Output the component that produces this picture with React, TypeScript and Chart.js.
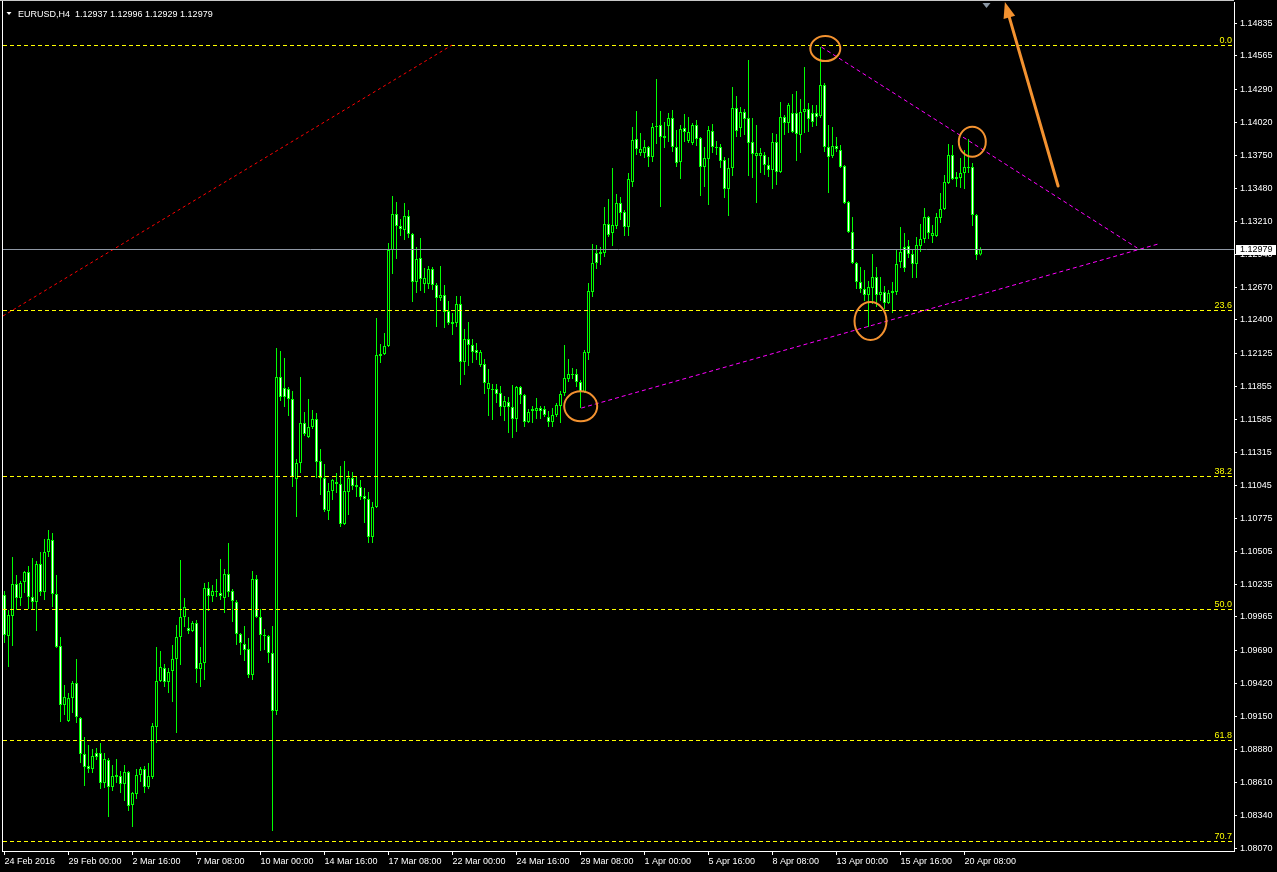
import React, { useEffect, useRef } from "react";
import { Chart, registerables } from "chart.js";

Chart.register(...registerables);

const SYMBOL = "EURUSD,H4";

const OPEN = [
  1.10145, 1.09809, 1.09973, 1.10235, 1.10120, 1.10252, 1.10334, 1.10129, 1.10088, 1.10399,
  1.10170, 1.10498, 1.10596, 1.10153, 1.09727, 1.09243, 1.09112, 1.09300, 1.09423, 1.09136,
  1.08841, 1.08743, 1.08718, 1.08849, 1.08849, 1.08603, 1.08792, 1.08571, 1.08653, 1.08661,
  1.08595, 1.08694, 1.08423, 1.08513, 1.08669, 1.08718, 1.08571, 1.08653, 1.09063, 1.09440,
  1.09546, 1.09432, 1.09522, 1.09620, 1.09801, 1.09965, 1.09874, 1.09850, 1.09915, 1.09538,
  1.09587, 1.10202, 1.10137, 1.10170, 1.10161, 1.10120, 1.10317, 1.10178, 1.10088, 1.09825,
  1.09743, 1.09702, 1.09489, 1.10276, 1.09965, 1.09817, 1.09809, 1.09669, 1.09194, 1.11933,
  1.11842, 1.11834, 1.11752, 1.11096, 1.11227, 1.11555, 1.11441, 1.11523, 1.11588, 1.11244,
  1.11104, 1.10834, 1.10998, 1.11072, 1.11055, 1.10727, 1.10990, 1.11104, 1.11047, 1.11031,
  1.10957, 1.10932, 1.10621, 1.10867, 1.12105, 1.12121, 1.12187, 1.12974, 1.13269, 1.13171,
  1.13138, 1.13253, 1.13105, 1.12712, 1.12908, 1.12695, 1.12695, 1.12818, 1.12687, 1.12580,
  1.12605, 1.12474, 1.12384, 1.12375, 1.12531, 1.12056, 1.12244, 1.12195, 1.12154, 1.12031,
  1.12039, 1.11834, 1.11834, 1.11834, 1.11801, 1.11687, 1.11728, 1.11687, 1.11588, 1.11851,
  1.11785, 1.11564, 1.11654, 1.11654, 1.11678, 1.11670, 1.11605, 1.11564, 1.11621, 1.11695,
  1.11801, 1.11916, 1.11957, 1.11957, 1.11892, 1.11810, 1.12129, 1.12630, 1.12949, 1.12941,
  1.12949, 1.13187, 1.13113, 1.13171, 1.13359, 1.13286, 1.13163, 1.13532, 1.13884, 1.13769,
  1.13769, 1.13819, 1.13737, 1.13983, 1.13999, 1.13909, 1.13991, 1.14056, 1.13819, 1.13696,
  1.13974, 1.13868, 1.13851, 1.13999, 1.13892, 1.13655, 1.13720, 1.13950, 1.13819, 1.13819,
  1.13712, 1.13474, 1.13646, 1.14138, 1.13974, 1.14106, 1.14056, 1.13860, 1.13745, 1.13745,
  1.13753, 1.13671, 1.13630, 1.13860, 1.13614, 1.14065, 1.14015, 1.14097, 1.14097, 1.13917,
  1.14106, 1.14130, 1.14097, 1.14097, 1.14073, 1.14327, 1.13819, 1.13745, 1.13827, 1.13794,
  1.13663, 1.13368, 1.13122, 1.12867, 1.12712, 1.12654, 1.12605, 1.12662, 1.12753, 1.12605,
  1.12630, 1.12539, 1.12621, 1.12630, 1.12876, 1.12999, 1.13007, 1.12941, 1.12859, 1.13007,
  1.13064, 1.13245, 1.13089, 1.13089, 1.13236, 1.13310, 1.13523, 1.13753, 1.13556, 1.13564,
  1.13605, 1.13646, 1.13655, 1.13261, 1.12937,
];

const HIGH = [
  1.10178, 1.10022, 1.10457, 1.10309, 1.10260, 1.10342, 1.10383, 1.10448, 1.10424, 1.10498,
  1.10604, 1.10678, 1.10653, 1.10309, 1.09801, 1.09407, 1.09341, 1.09440, 1.09620, 1.09145,
  1.08981, 1.08915, 1.08882, 1.08890, 1.08931, 1.08849, 1.08808, 1.08751, 1.08800, 1.08702,
  1.08751, 1.08702, 1.08530, 1.08718, 1.08735, 1.08743, 1.08767, 1.09095, 1.09719, 1.09686,
  1.09579, 1.09546, 1.09735, 1.09899, 1.10432, 1.10120, 1.09965, 1.09932, 1.09940, 1.09719,
  1.10243, 1.10252, 1.10227, 1.10276, 1.10440, 1.10358, 1.10571, 1.10194, 1.10104, 1.09833,
  1.09891, 1.09792, 1.10342, 1.10309, 1.10030, 1.09866, 1.09817, 1.09891, 1.12170, 1.12146,
  1.12088, 1.11851, 1.11818, 1.11260, 1.11933, 1.11646, 1.11752, 1.11662, 1.11637, 1.11342,
  1.11219, 1.11063, 1.11096, 1.11145, 1.11203, 1.11244, 1.11162, 1.11154, 1.11113, 1.11088,
  1.11022, 1.10990, 1.10908, 1.12416, 1.12203, 1.12293, 1.13031, 1.13417, 1.13368, 1.13228,
  1.13359, 1.13302, 1.13113, 1.12999, 1.13072, 1.12826, 1.12843, 1.12835, 1.12703, 1.12843,
  1.12687, 1.12556, 1.12457, 1.12597, 1.12597, 1.12326, 1.12384, 1.12244, 1.12211, 1.12154,
  1.12080, 1.11998, 1.11875, 1.11875, 1.11859, 1.11777, 1.11769, 1.11867, 1.11859, 1.11859,
  1.11793, 1.11670, 1.11695, 1.11760, 1.11695, 1.11695, 1.11654, 1.11678, 1.11719, 1.11818,
  1.12195, 1.12080, 1.12006, 1.11998, 1.11908, 1.12154, 1.12703, 1.13023, 1.13015, 1.12999,
  1.13327, 1.13392, 1.13646, 1.13433, 1.13409, 1.13302, 1.13605, 1.13983, 1.14114, 1.13933,
  1.13876, 1.13827, 1.14015, 1.14376, 1.14114, 1.14024, 1.14097, 1.14122, 1.13958, 1.13999,
  1.14089, 1.14065, 1.14015, 1.14040, 1.13901, 1.13819, 1.13991, 1.14007, 1.13868, 1.13843,
  1.13737, 1.13728, 1.14311, 1.14237, 1.14147, 1.14130, 1.14532, 1.14056, 1.13999, 1.13810,
  1.13778, 1.13737, 1.13933, 1.13925, 1.14188, 1.14081, 1.14179, 1.14253, 1.14278, 1.14212,
  1.14475, 1.14179, 1.14163, 1.14163, 1.14639, 1.14343, 1.13999, 1.13983, 1.13901, 1.13835,
  1.13671, 1.13376, 1.13245, 1.12876, 1.12835, 1.12810, 1.12720, 1.12941, 1.12835, 1.12753,
  1.12679, 1.12646, 1.12712, 1.12982, 1.13163, 1.13113, 1.13056, 1.12974, 1.13081, 1.13187,
  1.13318, 1.13253, 1.13179, 1.13277, 1.13441, 1.13589, 1.13843, 1.13835, 1.13614, 1.13728,
  1.13794, 1.13884, 1.13687, 1.13269, 1.12996,
];

const LOW = [
  1.09751, 1.09555, 1.09727, 1.10022, 1.10055, 1.10161, 1.10030, 1.10022, 1.09850, 1.10137,
  1.10104, 1.10457, 1.10047, 1.09710, 1.09104, 1.09161, 1.09104, 1.09177, 1.09095, 1.08767,
  1.08579, 1.08685, 1.08685, 1.08792, 1.08554, 1.08562, 1.08325, 1.08538, 1.08603, 1.08521,
  1.08456, 1.08374, 1.08243, 1.08472, 1.08612, 1.08521, 1.08554, 1.08636, 1.08931, 1.09432,
  1.09391, 1.09341, 1.09268, 1.09013, 1.09571, 1.09883, 1.09825, 1.09842, 1.09423, 1.09391,
  1.09448, 1.10014, 1.10088, 1.10129, 1.10104, 1.09997, 1.10129, 1.09924, 1.09735, 1.09653,
  1.09604, 1.09464, 1.09448, 1.09956, 1.09686, 1.09694, 1.09587, 1.08210, 1.09161, 1.11736,
  1.11687, 1.11613, 1.11031, 1.10785, 1.11145, 1.11449, 1.11432, 1.11506, 1.11104, 1.10965,
  1.10826, 1.10760, 1.10924, 1.10981, 1.10703, 1.10719, 1.10801, 1.11006, 1.10949, 1.10924,
  1.10735, 1.10571, 1.10571, 1.10858, 1.12047, 1.12113, 1.12179, 1.12777, 1.12900, 1.13089,
  1.13056, 1.13072, 1.12548, 1.12621, 1.12638, 1.12621, 1.12654, 1.12646, 1.12343, 1.12556,
  1.12334, 1.12359, 1.12277, 1.12343, 1.11867, 1.11949, 1.12023, 1.12047, 1.12072, 1.12015,
  1.11793, 1.11613, 1.11580, 1.11719, 1.11613, 1.11572, 1.11473, 1.11432, 1.11482, 1.11711,
  1.11523, 1.11555, 1.11555, 1.11588, 1.11588, 1.11605, 1.11523, 1.11523, 1.11605, 1.11555,
  1.11777, 1.11892, 1.11916, 1.11851, 1.11678, 1.11801, 1.12072, 1.12589, 1.12818, 1.12851,
  1.12917, 1.13081, 1.13007, 1.13146, 1.13220, 1.13089, 1.13089, 1.13491, 1.13753, 1.13745,
  1.13728, 1.13655, 1.13696, 1.13843, 1.13327, 1.13810, 1.13860, 1.13778, 1.13655, 1.13556,
  1.13860, 1.13851, 1.13835, 1.13827, 1.13417, 1.13491, 1.13343, 1.13769, 1.13753, 1.13646,
  1.13400, 1.13253, 1.13581, 1.13901, 1.13901, 1.13917, 1.13581, 1.13564, 1.13359, 1.13605,
  1.13589, 1.13573, 1.13474, 1.13507, 1.13605, 1.13917, 1.13933, 1.13933, 1.13704, 1.13769,
  1.13933, 1.13942, 1.13983, 1.13991, 1.14056, 1.13778, 1.13441, 1.13728, 1.13778, 1.13646,
  1.13351, 1.13113, 1.12859, 1.12654, 1.12621, 1.12556, 1.12343, 1.12531, 1.12507, 1.12556,
  1.12490, 1.12531, 1.12457, 1.12605, 1.12826, 1.12794, 1.12908, 1.12744, 1.12744, 1.12958,
  1.13031, 1.13064, 1.13031, 1.13081, 1.13195, 1.13302, 1.13515, 1.13548, 1.13491, 1.13482,
  1.13474, 1.13605, 1.13171, 1.12892, 1.12929,
];

const CLOSE = [
  1.09817, 1.09981, 1.10235, 1.10120, 1.10243, 1.10334, 1.10129, 1.10088, 1.10399, 1.10170,
  1.10498, 1.10604, 1.10153, 1.09719, 1.09243, 1.09309, 1.09300, 1.09423, 1.09145, 1.08841,
  1.08735, 1.08718, 1.08825, 1.08817, 1.08603, 1.08800, 1.08571, 1.08661, 1.08669, 1.08595,
  1.08694, 1.08415, 1.08521, 1.08669, 1.08718, 1.08571, 1.08661, 1.09071, 1.09440, 1.09555,
  1.09432, 1.09514, 1.09620, 1.09801, 1.09965, 1.10047, 1.09850, 1.09915, 1.09538, 1.09587,
  1.10202, 1.10137, 1.10178, 1.10178, 1.10137, 1.10317, 1.10170, 1.10096, 1.09825, 1.09751,
  1.09694, 1.09489, 1.10276, 1.09965, 1.09817, 1.09809, 1.09669, 1.09194, 1.11933, 1.11769,
  1.11769, 1.11752, 1.11113, 1.11227, 1.11555, 1.11465, 1.11523, 1.11588, 1.11236, 1.11104,
  1.10842, 1.10998, 1.11088, 1.11055, 1.10727, 1.10998, 1.11104, 1.11039, 1.11031, 1.10949,
  1.10932, 1.10621, 1.10867, 1.12113, 1.12121, 1.12187, 1.12974, 1.13269, 1.13171, 1.13146,
  1.13253, 1.13105, 1.12712, 1.12900, 1.12736, 1.12744, 1.12818, 1.12687, 1.12580, 1.12605,
  1.12466, 1.12375, 1.12367, 1.12531, 1.12056, 1.12244, 1.12195, 1.12138, 1.12129, 1.12138,
  1.11883, 1.11883, 1.11826, 1.11793, 1.11687, 1.11736, 1.11687, 1.11588, 1.11851, 1.11785,
  1.11564, 1.11646, 1.11670, 1.11678, 1.11654, 1.11621, 1.11564, 1.11621, 1.11703, 1.11793,
  1.11924, 1.11957, 1.11949, 1.11892, 1.11810, 1.12138, 1.12638, 1.12867, 1.12867, 1.12958,
  1.13187, 1.13097, 1.13179, 1.13359, 1.13277, 1.13163, 1.13556, 1.13876, 1.13802, 1.13802,
  1.13819, 1.13737, 1.13983, 1.13991, 1.13901, 1.13892, 1.14056, 1.13819, 1.13687, 1.13966,
  1.13942, 1.13942, 1.13999, 1.13884, 1.13655, 1.13728, 1.13958, 1.13819, 1.13810, 1.13704,
  1.13474, 1.13646, 1.14138, 1.13950, 1.14106, 1.14048, 1.13851, 1.13761, 1.13769, 1.13769,
  1.13671, 1.13630, 1.13860, 1.13614, 1.14065, 1.14015, 1.14163, 1.13942, 1.13925, 1.14106,
  1.14130, 1.14048, 1.14024, 1.14065, 1.14327, 1.13819, 1.13737, 1.13827, 1.13802, 1.13655,
  1.13359, 1.13122, 1.12867, 1.12712, 1.12654, 1.12605, 1.12671, 1.12753, 1.12605, 1.12630,
  1.12539, 1.12621, 1.12638, 1.12859, 1.12958, 1.12826, 1.12941, 1.12859, 1.13015, 1.13064,
  1.13245, 1.13113, 1.13113, 1.13245, 1.13310, 1.13532, 1.13753, 1.13556, 1.13573, 1.13605,
  1.13655, 1.13655, 1.13261, 1.12933, 1.12979,
];

// time-axis labels (bar index -> text)
const X_TICK_INDEX = [0, 16, 32, 48, 64, 80, 96, 112, 128, 144, 160, 176, 192, 208, 224, 240];
const X_TICK_TEXT = [
  "24 Feb 2016", "29 Feb 00:00", "2 Mar 16:00", "7 Mar 08:00", "10 Mar 00:00", "14 Mar 16:00",
  "17 Mar 08:00", "22 Mar 00:00", "24 Mar 16:00", "29 Mar 08:00", "1 Apr 00:00", "5 Apr 16:00",
  "8 Apr 08:00", "13 Apr 00:00", "15 Apr 16:00", "20 Apr 08:00",
];

// price-axis labels
const Y_TICKS = [
  1.14835, 1.14565, 1.1429, 1.1402, 1.1375, 1.1348, 1.1321, 1.1294, 1.1267, 1.124, 1.12125,
  1.11855, 1.11585, 1.11315, 1.11045, 1.10775, 1.10505, 1.10235, 1.09965, 1.0969, 1.0942,
  1.0915, 1.0888, 1.0861, 1.0834, 1.0807,
];

// Fibonacci retracement levels
const FIB_PRICES = [1.14655, 1.12474, 1.11113, 1.1003, 1.08948, 1.0812];
const FIB_NAMES = ["0.0", "23.6", "38.2", "50.0", "61.8", "70.7"];
// fib anchor diagonal [idx0, price0, idx1, price1]
const FIB_DIAGONAL = [-0.375, 1.12433, 111.9, 1.14655];

// trend lines [idx0, price0, idx1, price1]
const TREND_UPPER = [204.2, 1.14639, 283.2, 1.1299];
const TREND_LOWER = [144.2, 1.11678, 288.4, 1.13023];

// highlighted swing points [idx, price]
const CIRCLES = [
  [205.2, 1.14626],
  [216.5, 1.12392],
  [144.05, 1.11692],
  [241.95, 1.13862],
];
const CIRCLE_RADII = [
  [15, 12.5],
  [16, 19],
  [16.5, 15],
  [13.5, 15],
];

// arrow [idxTail, priceTail, idxTip, priceTip]
const ARROW = [263.4, 1.13499, 250.1, 1.15008];

const SHIFT_MARK_IDX = 245.5;

const X_MIN = -0.375;
const X_MAX = 307.375;
const Y_MIN = 1.080458;
const Y_MAX = 1.150076;

const LIME = "#00ff00";
const ORANGE = "#f39230";
const FONT = "'Liberation Sans', Arial, sans-serif";

const overlayPlugin = {
  id: "mt4overlay",
  afterDatasetsDraw(chart: any) {
    const { ctx, chartArea: a, scales } = chart;
    const xs = scales.x;
    const ys = scales.y;
    const X = (v: number) => xs.getPixelForValue(v);
    const Y = (v: number) => ys.getPixelForValue(v);

    ctx.save();
    ctx.beginPath();
    ctx.rect(a.left, a.top, a.right - a.left, a.bottom - a.top);
    ctx.clip();

    // fib levels
    ctx.lineWidth = 1;
    ctx.strokeStyle = "#ffff00";
    ctx.fillStyle = "#ffff00";
    ctx.font = `9px ${FONT}`;
    ctx.textAlign = "right";
    ctx.textBaseline = "alphabetic";
    FIB_PRICES.forEach((p, k) => {
      const py = Math.floor(Y(p)) + 0.5;
      ctx.setLineDash([4, 3]);
      ctx.beginPath();
      ctx.moveTo(a.left, py);
      ctx.lineTo(a.right - 2, py);
      ctx.stroke();
      ctx.setLineDash([]);
      ctx.fillText(FIB_NAMES[k], a.right - 2, py - 2.5);
    });

    // fib diagonal (red)
    ctx.strokeStyle = "#ff0000";
    ctx.setLineDash([3, 3]);
    ctx.beginPath();
    ctx.moveTo(X(FIB_DIAGONAL[0]), Y(FIB_DIAGONAL[1]));
    ctx.lineTo(X(FIB_DIAGONAL[2]), Y(FIB_DIAGONAL[3]));
    ctx.stroke();

    // trend lines (magenta)
    ctx.strokeStyle = "#ff00ff";
    ctx.setLineDash([4, 3]);
    [TREND_UPPER, TREND_LOWER].forEach((t) => {
      ctx.beginPath();
      ctx.moveTo(X(t[0]), Y(t[1]));
      ctx.lineTo(X(t[2]), Y(t[3]));
      ctx.stroke();
    });
    ctx.setLineDash([]);

    // bid line
    const last = CLOSE[CLOSE.length - 1];
    const by = Math.floor(Y(last)) + 0.5;
    ctx.strokeStyle = "#8f98a5";
    ctx.beginPath();
    ctx.moveTo(a.left, by);
    ctx.lineTo(a.right, by);
    ctx.stroke();

    // circles
    ctx.strokeStyle = ORANGE;
    ctx.lineWidth = 2;
    CIRCLES.forEach((c, k) => {
      ctx.beginPath();
      ctx.ellipse(X(c[0]), Y(c[1]), CIRCLE_RADII[k][0], CIRCLE_RADII[k][1], 0, 0, Math.PI * 2);
      ctx.stroke();
    });
    ctx.restore();

    // arrow (not clipped)
    ctx.save();
    const tx = X(ARROW[0]);
    const ty = Y(ARROW[1]);
    const hx = X(ARROW[2]);
    const hy = Y(ARROW[3]);
    const dx = hx - tx;
    const dy = hy - ty;
    const len = Math.sqrt(dx * dx + dy * dy);
    const ux = dx / len;
    const uy = dy / len;
    const headLen = 16;
    const headHalf = 6;
    const bx = hx - ux * headLen;
    const byy = hy - uy * headLen;
    ctx.strokeStyle = ORANGE;
    ctx.fillStyle = ORANGE;
    ctx.lineWidth = 3;
    ctx.lineCap = "round";
    ctx.beginPath();
    ctx.moveTo(tx, ty);
    ctx.lineTo(bx, byy);
    ctx.stroke();
    ctx.beginPath();
    ctx.moveTo(hx, hy);
    ctx.lineTo(bx - uy * headHalf, byy + ux * headHalf);
    ctx.lineTo(bx + uy * headHalf, byy - ux * headHalf);
    ctx.closePath();
    ctx.fill();
    ctx.restore();
  },
  afterDraw(chart: any) {
    const { ctx, chartArea: a, scales } = chart;
    const ys = scales.y;
    const xs = scales.x;
    ctx.save();
    // frame: left and top
    ctx.fillStyle = "#ffffff";
    ctx.fillRect(a.left - 1, 0, 1, a.bottom + 1);
    ctx.fillStyle = "#c8c8c8";
    ctx.fillRect(0, 0, a.right, 1);

    // shift marker
    const sx = xs.getPixelForValue(SHIFT_MARK_IDX);
    ctx.fillStyle = "#8a96a3";
    ctx.beginPath();
    ctx.moveTo(sx - 4, 3);
    ctx.lineTo(sx + 4, 3);
    ctx.lineTo(sx, 8);
    ctx.closePath();
    ctx.fill();

    // header
    const n = CLOSE.length - 1;
    ctx.fillStyle = "#ffffff";
    ctx.beginPath();
    ctx.moveTo(6.5, 12);
    ctx.lineTo(11.5, 12);
    ctx.lineTo(9, 15);
    ctx.closePath();
    ctx.fill();
    ctx.font = `9px ${FONT}`;
    ctx.textAlign = "left";
    ctx.textBaseline = "alphabetic";
    const header = `${SYMBOL}  ${OPEN[n].toFixed(5)} ${HIGH[n].toFixed(5)} ${LOW[n].toFixed(5)} ${CLOSE[n].toFixed(5)}`;
    ctx.fillText(header, 18, 17);

    // bid price label on axis
    const by = Math.floor(ys.getPixelForValue(CLOSE[n]));
    ctx.fillStyle = "#ffffff";
    ctx.fillRect(a.right + 2, by - 4, 40, 10);
    ctx.fillStyle = "#000000";
    ctx.textBaseline = "middle";
    ctx.fillText(CLOSE[n].toFixed(5), a.right + 6, by + 1);
    ctx.restore();
  },
};

export default function App() {
  const ref = useRef<HTMLCanvasElement>(null);

  useEffect(() => {
    const canvas = ref.current;
    if (!canvas) return;
    const wicks = LOW.map((l, i) => ({ x: i, y: [l, HIGH[i]] }));
    const bodies = OPEN.map((o, i) => ({ x: i, y: [o, CLOSE[i]] }));
    const bodyFill = OPEN.map((o, i) => (CLOSE[i] >= o ? "#000000" : "#ffffff"));

    const chart = new Chart(canvas, {
      type: "bar",
      data: {
        datasets: [
          {
            data: bodies as any,
            backgroundColor: bodyFill,
            borderColor: LIME,
            borderWidth: 1,
            borderSkipped: false,
            barThickness: 3,
            grouped: false,
            minBarLength: 1,
            inflateAmount: 0,
            order: 0,
          } as any,
          {
            data: wicks as any,
            backgroundColor: LIME,
            borderWidth: 0,
            barThickness: 1,
            grouped: false,
            inflateAmount: 0,
            order: 1,
          } as any,
        ],
      },
      options: {
        responsive: false,
        animation: false,
        events: [],
        layout: { padding: { left: 3, top: 2, right: 0, bottom: 0 }, autoPadding: false } as any,
        plugins: {
          legend: { display: false },
          tooltip: { enabled: false },
          title: { display: false },
        },
        scales: {
          x: {
            type: "linear",
            position: "bottom",
            min: X_MIN,
            max: X_MAX,
            offset: false,
            grid: {
              display: true,
              drawOnChartArea: false,
              drawTicks: true,
              tickLength: 4,
              color: "#ffffff",
              offset: false,
            },
            border: { display: true, color: "#ffffff", width: 1 },
            ticks: {
              autoSkip: false,
              maxRotation: 0,
              minRotation: 0,
              align: "start",
              color: "#ffffff",
              padding: 1,
              font: { family: FONT, size: 9 },
              callback: (v: any) => {
                const k = X_TICK_INDEX.indexOf(Number(v));
                return k >= 0 ? X_TICK_TEXT[k] : "";
              },
            },
            afterBuildTicks: (s: any) => {
              s.ticks = X_TICK_INDEX.map((v) => ({ value: v }));
            },
            afterFit: (s: any) => {
              s.height = 21;
              s.paddingLeft = 0;
              s.paddingRight = 0;
            },
          } as any,
          y: {
            type: "linear",
            position: "right",
            min: Y_MIN,
            max: Y_MAX,
            grid: {
              display: true,
              drawOnChartArea: false,
              drawTicks: true,
              tickLength: 3,
              color: "#ffffff",
            },
            border: { display: true, color: "#ffffff", width: 1 },
            ticks: {
              autoSkip: false,
              color: "#ffffff",
              padding: 3,
              font: { family: FONT, size: 9 },
              callback: (v: any) => Number(v).toFixed(5),
            },
            afterBuildTicks: (s: any) => {
              s.ticks = Y_TICKS.map((v) => ({ value: v }));
            },
            afterFit: (s: any) => {
              s.width = 43;
              s.paddingTop = 0;
              s.paddingBottom = 0;
            },
          } as any,
        },
      },
      plugins: [overlayPlugin],
    });
    return () => chart.destroy();
  }, []);

  return (
    <div
      style={{
        position: "fixed",
        left: 0,
        top: 0,
        width: 1277,
        height: 872,
        background: "#000000",
        overflow: "hidden",
      }}
    >
      <canvas ref={ref} width={1277} height={872} style={{ display: "block", background: "#000000" }} />
    </div>
  );
}
